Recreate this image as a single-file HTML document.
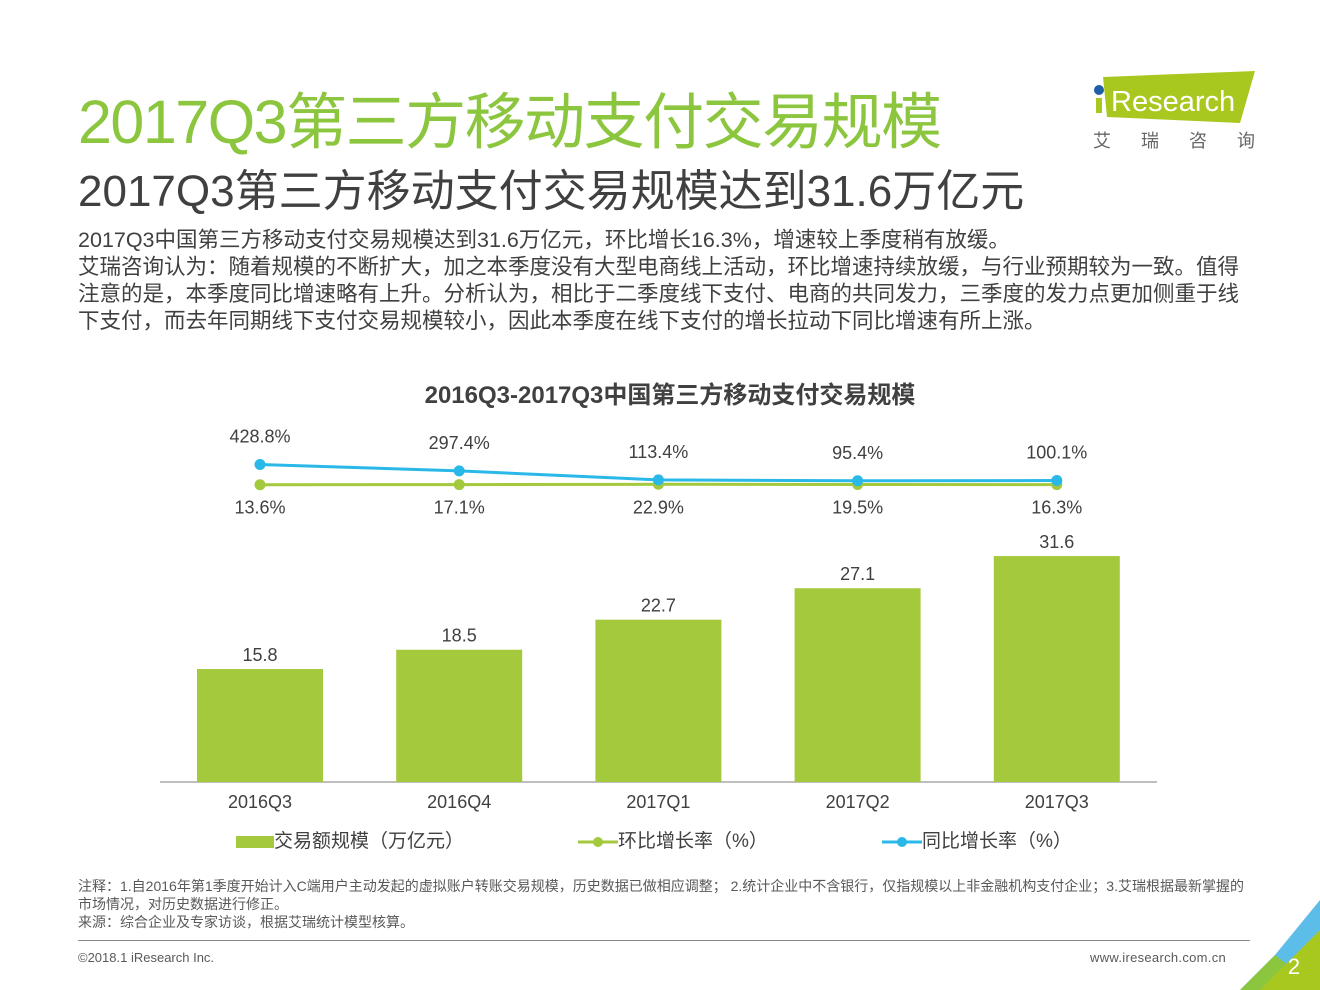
<!DOCTYPE html>
<html><head><meta charset="utf-8"><style>
body{margin:0;width:1320px;height:990px;background:#fff;position:relative;overflow:hidden;font-family:"Liberation Sans","Noto Sans CJK SC",sans-serif;}
.abs{position:absolute;}
</style></head><body>
<div class="abs" style="left:78px;top:72px;font-size:61px;color:#8cc63f;white-space:nowrap;letter-spacing:-1.5px">2017Q3第三方移动支付交易规模</div>
<div class="abs" style="left:78px;top:155px;font-size:44px;color:#404040;white-space:nowrap;letter-spacing:0px">2017Q3第三方移动支付交易规模达到31.6万亿元</div>
<div class="abs" style="left:78px;top:227px;width:1180px;font-size:21.5px;line-height:27px;color:#404040;letter-spacing:0px">2017Q3中国第三方移动支付交易规模达到31.6万亿元，环比增长16.3%，增速较上季度稍有放缓。<br>艾瑞咨询认为：随着规模的不断扩大，加之本季度没有大型电商线上活动，环比增速持续放缓，与行业预期较为一致。值得注意的是，本季度同比增速略有上升。分析认为，相比于二季度线下支付、电商的共同发力，三季度的发力点更加侧重于线下支付，而去年同期线下支付交易规模较小，因此本季度在线下支付的增长拉动下同比增速有所上涨。</div>
<svg class="abs" style="left:1085px;top:65px" width="180" height="95">
<polygon points="18,12 170,6 155,58 22,52" fill="#a8c81f"/>
<circle cx="14" cy="25" r="5" fill="#1f5fa8"/>
<rect x="11" y="33" width="6" height="15" fill="#a8c81f"/>
<text x="26" y="46" font-size="29" fill="#fff" font-family="Liberation Sans">Research</text>
<text x="8" y="82" font-size="18" fill="#666" font-family="Noto Sans CJK SC" letter-spacing="30">艾瑞咨询</text>
</svg>
<svg class="abs" style="left:0;top:0" width="1320" height="990" id="chart">
<text x="670" y="403" text-anchor="middle" font-size="24" font-weight="bold" fill="#404040">2016Q3-2017Q3中国第三方移动支付交易规模</text>
<line x1="160" y1="782" x2="1157" y2="782" stroke="#aaa" stroke-width="1.5"/>
</svg>
<div class="abs" style="left:236px;top:826px;font-size:19px;color:#404040;white-space:nowrap">
<span><span style="display:inline-block;width:38px;height:12px;background:#a4c93c;vertical-align:middle"></span>交易额规模（万亿元）</span>
<span style="position:absolute;left:342px"><svg width="40" height="14" style="vertical-align:middle"><line x1="0" y1="7" x2="40" y2="7" stroke="#a4c93c" stroke-width="3"/><circle cx="20" cy="7" r="5" fill="#a4c93c"/></svg>环比增长率（%）</span>
<span style="position:absolute;left:646px"><svg width="40" height="14" style="vertical-align:middle"><line x1="0" y1="7" x2="40" y2="7" stroke="#2ab8e8" stroke-width="3"/><circle cx="20" cy="7" r="5" fill="#2ab8e8"/></svg>同比增长率（%）</span>
</div>
<div class="abs" style="left:78px;top:877px;width:1172px;font-size:14px;line-height:18px;color:#595959">注释：1.自2016年第1季度开始计入C端用户主动发起的虚拟账户转账交易规模，历史数据已做相应调整； 2.统计企业中不含银行，仅指规模以上非金融机构支付企业；3.艾瑞根据最新掌握的市场情况，对历史数据进行修正。<br>来源：综合企业及专家访谈，根据艾瑞统计模型核算。</div>
<div class="abs" style="left:78px;top:940px;width:1172px;height:1px;background:#888"></div>
<div class="abs" style="left:78px;top:950px;font-size:13px;color:#595959">©2018.1 iResearch Inc.</div>
<div class="abs" style="left:1090px;top:950px;font-size:13px;color:#595959;letter-spacing:0.3px">www.iresearch.com.cn</div>
<svg class="abs" style="left:1200px;top:890px" width="120" height="100">
<polygon points="120,10 120,100 40,100 75,65" fill="#5bbde8"/>
<polygon points="75,65 120,100 40,100" fill="#8cc63f"/>
<polygon points="120,40 120,100 60,100" fill="#a8c81f"/>
<text x="94" y="84" font-size="22" fill="#fff" text-anchor="middle">2</text>
</svg>
<script>
const categories=["2016Q3","2016Q4","2017Q1","2017Q2","2017Q3"];
const volume=[15.8,18.5,22.7,27.1,31.6];
const momRate=[13.6,17.1,22.9,19.5,16.3];
const yoyRate=[428.8,297.4,113.4,95.4,100.1];
const svg=document.getElementById('chart');
const NS='http://www.w3.org/2000/svg';
const xC=i=>260+i*199.2;
const yBar=v=>782-v*7.15;
const yRate=v=>485.4-v*0.0487;
function mk(tag,attrs,txt){const e=document.createElementNS(NS,tag);for(const k in attrs)e.setAttribute(k,attrs[k]);if(txt!==undefined)e.textContent=txt;svg.appendChild(e);return e;}
categories.forEach((c,i)=>{
 const b=mk('rect',{x:xC(i)-63,y:yBar(volume[i]),width:126,height:782-yBar(volume[i]),fill:'#a4c93c'});
 
 
 const t=mk('text',{x:xC(i),y:yBar(volume[i])-8,'text-anchor':'middle','font-size':18,fill:'#404040'},volume[i].toFixed(1));
 
 
 const l=mk('text',{x:xC(i),y:808,'text-anchor':'middle','font-size':18,fill:'#404040'},c);
 
 
});
[[momRate,'#a4c93c','mom',29],[yoyRate,'#2ab8e8','yoy',-22]].forEach(([arr,col,nm,off])=>{
 const p=mk('polyline',{points:arr.map((v,i)=>xC(i)+','+yRate(v)).join(' '),fill:'none',stroke:col,'stroke-width':3});
 
 
 arr.forEach((v,i)=>{
  const c=mk('circle',{cx:xC(i),cy:yRate(v),r:5.5,fill:col});
  
  
  const t=mk('text',{x:xC(i),y:yRate(v)+off,'text-anchor':'middle','font-size':18,fill:'#404040'},v.toFixed(1)+'%');
  
  
 });
});
</script>
</body></html>
